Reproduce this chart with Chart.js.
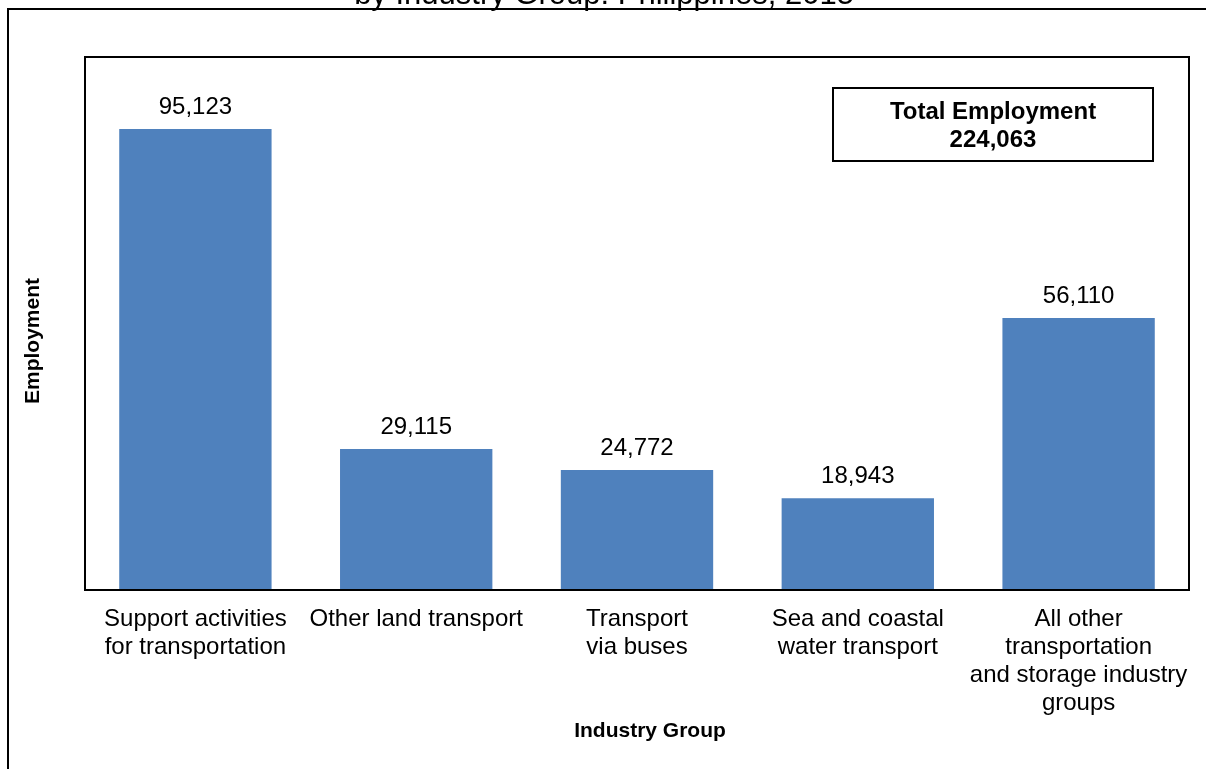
<!DOCTYPE html>
<html>
<head>
<meta charset="utf-8">
<script src="https://cdn.jsdelivr.net/npm/chart.js@4.4.1/dist/chart.umd.min.js"></script>
<style>
  html, body { margin: 0; padding: 0; background: #fff; }
  #wrap { width: 1206px; height: 769px; }
</style>
</head>
<body>
<div id="wrap"><canvas id="employmentChart" width="1206" height="769"></canvas></div>
<script>
// data
const categories = [
    ['Support activities', 'for transportation'],
    ['Other land transport'],
    ['Transport', 'via buses'],
    ['Sea and coastal', 'water transport'],
    ['All other', 'transportation', 'and storage industry', 'groups']
];
const employment = [95123, 29115, 24772, 18943, 56110];
const yMax = 110000;

const titleText = 'by Industry Group: Philippines, 2015';
const totalLabel = 'Total Employment';
const xTitle = 'Industry Group';
const yTitle = 'Employment';

Chart.defaults.font.family = "'Liberation Sans', Arial, sans-serif";
Chart.defaults.color = '#000';

const fmt = v => v.toLocaleString('en-US');

// frame, titles, value labels and total box
const decorPlugin = {
    id: 'decor',
    beforeDraw(chart) {
        const ctx = chart.ctx;
        ctx.save();
        ctx.fillStyle = '#fff';
        ctx.fillRect(0, 0, chart.width, chart.height);
        // outer border (runs off the right and bottom edges)
        ctx.strokeStyle = '#000';
        ctx.lineWidth = 2;
        ctx.beginPath();
        ctx.moveTo(8, chart.height + 5);
        ctx.lineTo(8, 9);
        ctx.lineTo(chart.width + 5, 9);
        ctx.stroke();
        // clipped title
        ctx.font = "31px 'Liberation Sans', Arial, sans-serif";
        ctx.fillStyle = '#000';
        ctx.textAlign = 'center';
        ctx.textBaseline = 'alphabetic';
        ctx.fillText(titleText, 604, 4);

        // axis titles
        ctx.font = "bold 21px 'Liberation Sans', Arial, sans-serif";
        ctx.textBaseline = 'middle';
        ctx.fillText(xTitle, 650, 731);
        ctx.translate(33, 341);
        ctx.rotate(-Math.PI / 2);
        ctx.fillText(yTitle, 0, 0);
        ctx.restore();
    },
    afterDatasetsDraw(chart) {
        const ctx = chart.ctx;
        const area = chart.chartArea;
        ctx.save();
        // plot area frame
        ctx.strokeStyle = '#000';
        ctx.lineWidth = 2;
        ctx.strokeRect(area.left, area.top, area.right - area.left, area.bottom - area.top);

        // value labels
        ctx.font = "24px 'Liberation Sans', Arial, sans-serif";
        ctx.fillStyle = '#000';
        ctx.textAlign = 'center';
        ctx.textBaseline = 'alphabetic';
        const meta = chart.getDatasetMeta(0);
        meta.data.forEach((bar, i) => {
            ctx.fillText(fmt(employment[i]), bar.x, bar.y - 15);
        });

        // total box
        const total = employment.reduce((a, b) => a + b, 0);
        ctx.lineWidth = 2;
        ctx.strokeRect(833, 88, 320, 73);
        ctx.font = "bold 24px 'Liberation Sans', Arial, sans-serif";
        ctx.textBaseline = 'middle';
        ctx.fillText(totalLabel, 993, 112);
        ctx.fillText(fmt(total), 993, 140);
        ctx.restore();
    }
};

const ctx = document.getElementById('employmentChart').getContext('2d');
const employmentChart = new Chart(ctx, {
    type: 'bar',
    data: {
        labels: categories,
        datasets: [{
            label: 'Employment',
            data: employment,
            backgroundColor: '#4F81BD',
            borderWidth: 0,
            categoryPercentage: 1.0,
            barPercentage: 0.69
        }]
    },
    options: {
        responsive: false,
        animation: false,
        layout: {
            padding: { top: 57, right: 17, bottom: 0, left: 8 }
        },
        plugins: {
            legend: { display: false },
            tooltip: { enabled: false },
            title: { display: false }
        },
        scales: {
            x: {
                grid: { display: false, drawTicks: false },
                border: { display: false },
                ticks: {
                    autoSkip: false,
                    maxRotation: 0,
                    minRotation: 0,
                    padding: 15,
                    color: '#000',
                    font: { size: 24, lineHeight: 1.17 }
                },
                afterFit(scale) { scale.height = 179; }
            },
            y: {
                min: 0,
                max: yMax,
                grid: { display: false, drawTicks: false },
                border: { display: false },
                ticks: { display: false },
                afterFit(scale) { scale.width = 77; }
            }
        }
    },
    plugins: [decorPlugin]
});
</script>
</body>
</html>
